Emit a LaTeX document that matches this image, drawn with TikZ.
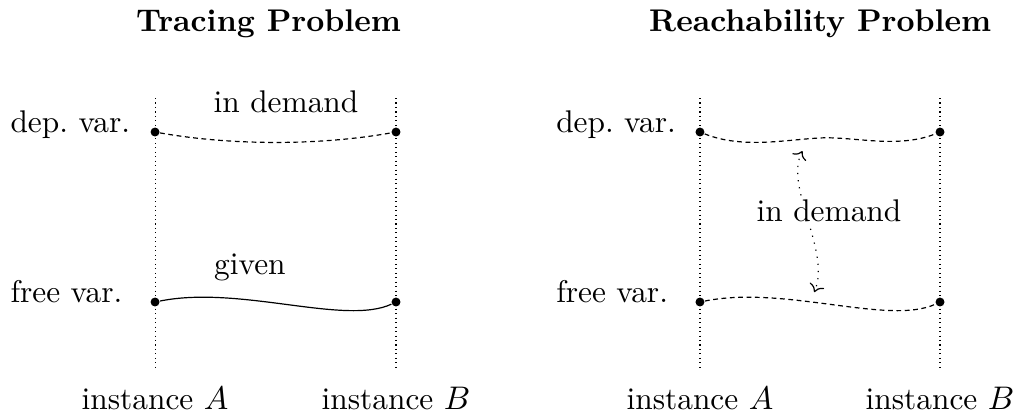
\documentclass[tikz,border=0pt]{standalone}
\usepackage{amsmath, amssymb}
\usepackage{tikz}
\usetikzlibrary{arrows.meta,positioning,calc}
\newcommand{\lblsize}{\fontsize{10.5}{12.6}\selectfont}

\begin{document}
\begin{tikzpicture}[
    dot/.style={circle, fill, inner sep=0pt, minimum size=3pt},
    instline/.style={line width=0.35pt, dash pattern=on 0.35pt off 1.15pt},
    demand/.style={dash pattern=on 1.6pt off 1.2pt},
    lbl/.style={anchor=base, font=\lblsize}
  ]
        \useasboundingbox (0,0) rectangle (12,4.847);

        % Titel
        \node[lbl, font=\lblsize\bfseries] (ttrace) at (3.16,4.482) {Tracing Problem};
        \node[lbl, font=\lblsize\bfseries] (treach) at (9.65,4.482) {Reachability Problem};

        % Instanzen (links)
        \coordinate (lAtop) at (1.824,3.694);
        \coordinate (lAbot) at (1.824,0.506);
        \coordinate (lBtop) at (4.659,3.694);
        \coordinate (lBbot) at (4.659,0.506);
        \draw[instline] (lAtop) -- (lAbot);
        \draw[instline] (lBtop) -- (lBbot);

        % Instanzen (rechts)
        \coordinate (rAtop) at (8.235,3.694);
        \coordinate (rAbot) at (8.235,0.506);
        \coordinate (rBtop) at (11.059,3.694);
        \coordinate (rBbot) at (11.059,0.506);
        \draw[instline] (rAtop) -- (rAbot);
        \draw[instline] (rBtop) -- (rBbot);

        % Variablen links
        \node[lbl, anchor=base west] (ldep) at (0,3.294) {dep.\ var.};
        \node[lbl, anchor=base west] (lfree) at (0,1.294) {free var.};
        \node[dot] (lAd) at (1.824,3.294) {};
        \node[dot] (lBd) at (4.659,3.294) {};
        \node[dot] (lAf) at (1.824,1.294) {};
        \node[dot] (lBf) at (4.659,1.294) {};

        \draw[demand] (lAd) .. controls +(0.9,-0.16) and +(-0.9,-0.16) .. (lBd);
        \draw (lAf) .. controls +(1.0,0.2) and +(-0.6,-0.28) .. (lBf);
        \node[lbl] (ldemand) at (3.365,3.518) {in demand};
        \node[lbl] (lgiven) at (2.94,1.623) {given};

        % Variablen rechts
        \node[lbl, anchor=base west] (rdep) at (6.42,3.294) {dep.\ var.};
        \node[lbl, anchor=base west] (rfree) at (6.42,1.294) {free var.};
        \node[dot] (rAd) at (8.235,3.294) {};
        \node[dot] (rBd) at (11.059,3.294) {};
        \node[dot] (rAf) at (8.235,1.294) {};
        \node[dot] (rBf) at (11.059,1.294) {};

        \coordinate (rmid) at ($(rAd)!0.5!(rBd)+(0,-0.07)$);
        \draw[demand] (rAd) .. controls +(0.5,-0.2) and +(-0.4,-0.02) .. (rmid)
                            .. controls +(0.4,0.02) and +(-0.5,-0.2) .. (rBd);
        \draw[demand] (rAf) .. controls +(1.0,0.2) and +(-0.6,-0.28) .. (rBf);

        % Pfeil zwischen den Variablen
        \coordinate (arrtop) at (9.44,3.07);
        \coordinate (arrbot) at (9.58,1.41);
        \draw[dotted, <->] (arrtop) .. controls (9.22,2.65) and (9.78,1.90) .. (arrbot);
        \node[lbl, fill=white, inner sep=1pt] (rdemand) at (9.753,2.247) {in demand};

        % Beschriftung unten
        \node[lbl] (lAlab) at (1.824,0.03) {instance $A$};
        \node[lbl] (lBlab) at (4.659,0.03) {instance $B$};
        \node[lbl] (rAlab) at (8.235,0.03) {instance $A$};
        \node[lbl] (rBlab) at (11.059,0.03) {instance $B$};
    \end{tikzpicture}
\end{document}
